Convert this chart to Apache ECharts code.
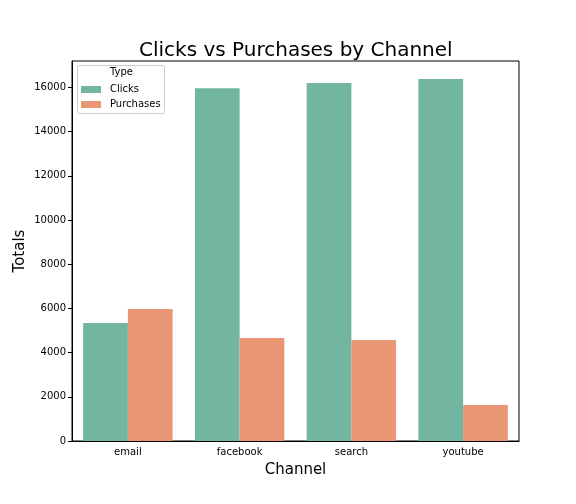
<!DOCTYPE html>
<html>
<head>
<meta charset="utf-8">
<script src="https://cdn.jsdelivr.net/npm/echarts@6/dist/echarts.min.js"></script>
<style>html,body{margin:0;padding:0;background:#fff}#c{width:576px;height:504px}</style>
</head>
<body>
<div id="c"></div>
<script>
const channels = ['email', 'facebook', 'search', 'youtube'];
const clicks = [5340, 15970, 16200, 16380];
const purchases = [5975, 4660, 4570, 1630];
const seriesNames = ['Clicks', 'Purchases'];
const yTicks = [0, 2000, 4000, 6000, 8000, 10000, 12000, 14000, 16000];

const chart = echarts.init(document.getElementById('c'), null, {renderer: 'canvas'});
const font = 'DejaVu Sans';
chart.setOption({
  animation: false,
  backgroundColor: '#fff',
  title: {
    text: 'Clicks vs Purchases by Channel',
    left: 134, top: 36,
    textStyle: {fontFamily: font, fontSize: 20, fontWeight: 'normal', color: '#000'}
  },
  grid: {left: 72, right: 57, top: 61, bottom: 63, containLabel: false, outerBoundsMode: 'none',
    show: true, borderColor: '#000', borderWidth: 1, backgroundColor: 'transparent'},
  xAxis: {
    type: 'category', data: channels,
    name: 'Channel', nameLocation: 'middle', nameGap: 22,
    nameTextStyle: {fontFamily: font, fontSize: 15, color: '#000'},
    axisLine: {lineStyle: {color: '#000', width: 1}},
    axisTick: {alignWithLabel: true, length: 4, lineStyle: {color: '#000'}},
    axisLabel: {fontFamily: font, fontSize: 10, color: '#000', margin: 6}
  },
  yAxis: {
    type: 'value', min: 0, max: 17200, interval: 2000,
    name: 'Totals', nameLocation: 'middle', nameGap: 44, nameRotate: 90, nameMoveOverlap: false,
    nameTextStyle: {fontFamily: font, fontSize: 15, color: '#000', verticalAlign: 'bottom'},
    axisLine: {show: true, lineStyle: {color: '#000', width: 1}},
    axisTick: {show: true, length: 4, customValues: yTicks, lineStyle: {color: '#000'}},
    splitLine: {show: false},
    axisLabel: {fontFamily: font, fontSize: 10, color: '#000', margin: 6, customValues: yTicks,
      formatter: v => String(v)}
  },
  legend: {
    orient: 'vertical', left: 81, top: 84.5, z: 200, padding: 0,
    itemWidth: 20, itemHeight: 7, itemGap: 5,
    icon: 'rect',
    textStyle: {fontFamily: font, fontSize: 10, color: '#000', padding: [0, 0, 0, 4]},
    data: seriesNames
  },
  graphic: [
    {type: 'rect', shape: {x: 77.5, y: 65.5, width: 87, height: 48, r: 2},
     style: {fill: 'rgba(255,255,255,0.8)', stroke: '#ccc', lineWidth: 1}, z: 50},
    {type: 'text', left: 110, top: 67, style: {text: 'Type', fontFamily: font, fontSize: 10, fill: '#000'}, z: 60}
  ],
  series: [
    {name: seriesNames[0], type: 'bar', data: clicks, barGap: '0%', barCategoryGap: '20%', itemStyle: {color: '#72b6a1'}},
    {name: seriesNames[1], type: 'bar', data: purchases, barGap: '0%', barCategoryGap: '20%', itemStyle: {color: '#e99675'}}
  ]
});
</script>
</body>
</html>
